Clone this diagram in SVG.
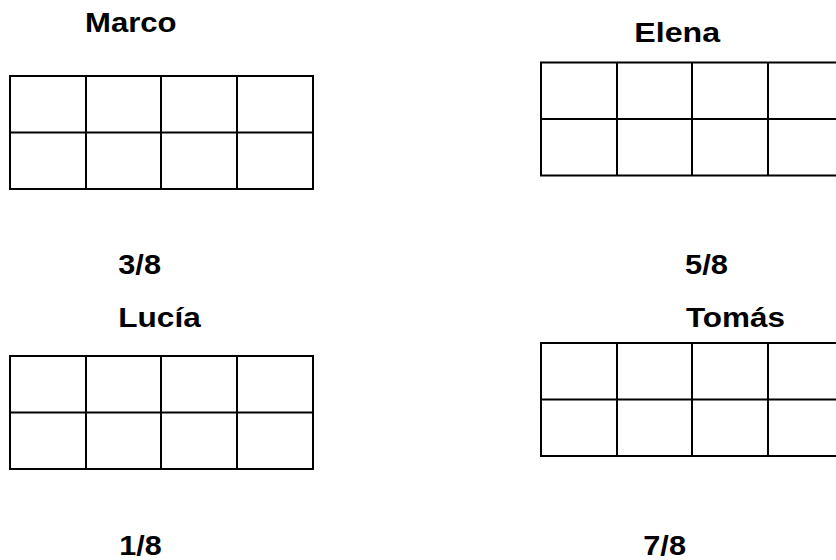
<svg xmlns="http://www.w3.org/2000/svg" width="836" height="560" viewBox="0 0 836 560">
<style>
.t{font-family:"Liberation Sans",Arial,sans-serif;font-weight:bold;font-size:28px;fill:#000}
.g{fill:none;stroke:#000;stroke-width:2}
</style>
<defs>
<g id="grid">
<rect class="g" x="0" y="0" width="303" height="113"/>
<path class="g" d="M0 56.5H303M76 0V113M151 0V113M227 0V113"/>
</g>
</defs>
<rect width="836" height="560" fill="#fff"/>
<g id="marco">
<text class="t" x="85" y="32.3" textLength="91.5" lengthAdjust="spacingAndGlyphs">Marco</text>
<use href="#grid" x="10" y="76"/>
<text class="t" x="118.3" y="274.3" textLength="42.7" lengthAdjust="spacingAndGlyphs">3/8</text>
</g>
<g id="elena">
<text class="t" x="634.3" y="42.3" textLength="85.7" lengthAdjust="spacingAndGlyphs">Elena</text>
<use href="#grid" x="541" y="62.5"/>
<text class="t" x="685" y="274.3" textLength="43" lengthAdjust="spacingAndGlyphs">5/8</text>
</g>
<g id="lucia">
<text class="t" x="118.3" y="327.3" textLength="82.4" lengthAdjust="spacingAndGlyphs">Lucía</text>
<use href="#grid" x="10" y="356"/>
<text class="t" x="119.3" y="555" textLength="42.4" lengthAdjust="spacingAndGlyphs">1/8</text>
</g>
<g id="tomas">
<text class="t" x="686" y="327.3" textLength="99" lengthAdjust="spacingAndGlyphs">Tomás</text>
<use href="#grid" x="541" y="343"/>
<text class="t" x="643.3" y="555" textLength="42.7" lengthAdjust="spacingAndGlyphs">7/8</text>
</g>
<g id="connectors"></g>
</svg>
